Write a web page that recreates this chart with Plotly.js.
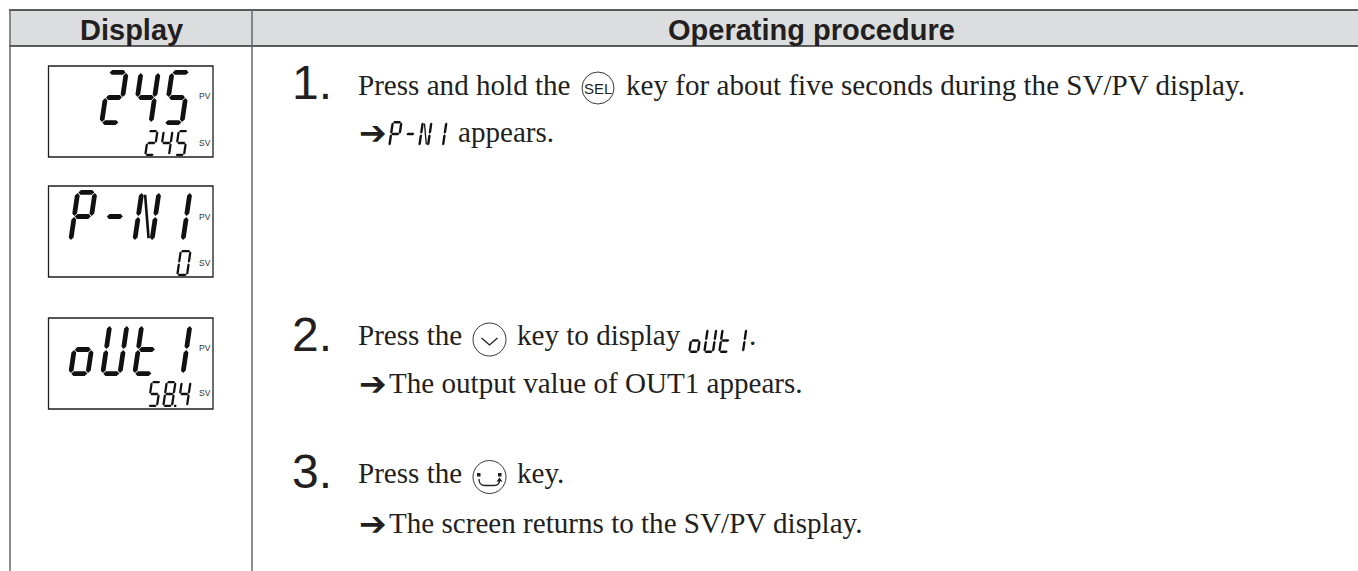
<!DOCTYPE html>
<html>
<head>
<meta charset="utf-8">
<script src="https://cdn.plot.ly/plotly-3.0.1.min.js"></script>
<style>html,body{margin:0;padding:0;background:#fff}#c{width:1358px;height:571px}</style>
</head>
<body>
<div id="c"></div>
<script>
const headers = ["Display", "Operating procedure"];
const stepNumbers = ["1.", "2.", "3."];
const stepText = [
  ["Press and hold the", "key for about five seconds during the SV/PV display."],
  ["Press the", "key to display"],
  ["Press the", "key."]
];
const resultText = ["appears.", "The output value of OUT1 appears.", "The screen returns to the SV/PV display."];
const displayBig = ["245", "P-N1", "oUt1"];
const displaySmall = ["245", "0", "58.4"];
const indicatorLabels = ["PV", "SV"];

const INK = "#231f20";
const W = 1358, H = 571;

// seven segment glyphs
const glyphs = {"0":"abcdef","2":"abged","4":"fgbc","5":"afgcd","8":"abcdefg","-":"g",
  "P":"abfge","N":"efbcn","1":"bc","o":"cdeg","U":"bcdef","t":"fegd"};

function segPoly(seg, box) {
  const {x, y, w, h, t, s} = box;
  const g = t * 0.12, th = t / 2;
  const mapP = (u, v) => [x + u + (h - v) * s, y + v];
  const hBar = (v, l, r) => [[l,v],[l+th,v-th],[r-th,v-th],[r,v],[r-th,v+th],[l+th,v+th]];
  const vBar = (u, a, b) => [[u,a],[u+th,a+th],[u+th,b-th],[u,b],[u-th,b-th],[u-th,a+th]];
  const m = h / 2, L = th, R = w - th, T = th, B = h - th;
  const defs = {
    a: hBar(T, L + g, R - g), g: hBar(m, L + g, R - g), d: hBar(B, L + g, R - g),
    f: vBar(L, T + g, m - g), e: vBar(L, m + g, B - g),
    b: vBar(R, T + g, m - g), c: vBar(R, m + g, B - g),
    n: [[L+th,T+th],[L+th+t*0.55,T+th],[R-th,B-th],[R-th-t*0.55,B-th]]
  };
  return defs[seg].map(p => mapP(p[0], p[1]));
}

const segX = [], segY = [];
function drawString(chars, xs, y, w, h, t, s) {
  let i = 0;
  for (const ch of chars) {
    if (ch === ".") {
      const px = xs[i - 1] + w + 1;
      segX.push(px, px + t, px + t, px, px, null);
      segY.push(y + h - t, y + h - t, y + h, y + h, y + h - t, null);
      continue;
    }
    for (const seg of glyphs[ch]) {
      const poly = segPoly(seg, {x: xs[i], y, w, h, t, s});
      poly.forEach(p => { segX.push(p[0]); segY.push(p[1]); });
      segX.push(poly[0][0], null); segY.push(poly[0][1], null);
    }
    i++;
  }
}

const S = 0.145;
drawString(displayBig[0], [99,131,162], 70, 22, 55, 4.8, S);
drawString(displayBig[1], [68,100,132,163], 190, 22, 53, 4.8, S);
drawString(displayBig[2], [68,100,132,163], 323, 22, 53, 4.8, S);
drawString(displaySmall[0], [144,159,174], 130, 11, 26, 2.3, S);
drawString(displaySmall[1], [176], 250, 12, 26, 2.3, S);
drawString(displaySmall[2], [147,162,177], 381, 11, 26, 2.3, S);
drawString(displayBig[1], [388,403,418,433], 121, 11, 26, 2.4, S);
drawString(displayBig[2], [688,703,718,733], 328, 11, 25, 2.4, S);

const shapes = [];
const line = (x0,y0,x1,y1,color,width) => shapes.push({type:"line",xref:"x",yref:"y",x0,y0,x1,y1,line:{color,width}});
shapes.push({type:"rect",xref:"x",yref:"y",x0:10,y0:10,x1:W,y1:46,fillcolor:"#dcddde",line:{width:0},layer:"below"});
line(9,10,W,10,"#2a2a2a",1.6);
line(9,46,W,46,"#2a2a2a",1.4);
line(10,10,10,H,"#666666",1.5);
line(252,10,252,H,"#666666",1.5);
[[66,157],[186,277],[318,409]].forEach(r => shapes.push({type:"rect",xref:"x",yref:"y",x0:48.5,x1:213,y0:r[0],y1:r[1],line:{color:"#1f1f1f",width:1.3}}));

const circle = (cx,cy,r) => shapes.push({type:"circle",xref:"x",yref:"y",x0:cx-r,x1:cx+r,y0:cy-r,y1:cy+r,line:{color:INK,width:0.9}});
circle(598,88,16); circle(489.5,339.5,16.5); circle(489.5,477,16.5);
const path = (d,fill) => shapes.push({type:"path",xref:"x",yref:"y",path:d,line:{color:INK,width:fill?0:1.3},fillcolor:fill?INK:"rgba(0,0,0,0)"});
path("M481.5 338 L489.5 345 L497.5 338");
path("M479 479 Q479 485.5 485 485.5 L494 485.5 Q499.5 485.5 499.5 480");
path("M496.5 481.5 L499.5 477.5 L502.5 481.5 Z", true);
path("M477 473 H480.5 V476.5 H477 Z", true);
path("M498 473 H501.5 V476.5 H498 Z", true);

const annotations = [];
const txt = (text,x,base,size,family) => annotations.push({
  text, x: x-1, y: base - size*0.3, xref:"x", yref:"y", xanchor:"left", yanchor:"middle", showarrow:false,
  font:{family,size,color:INK}, borderpad:0
});
const SERIF = "Liberation Serif", SANS = "Liberation Sans";
const TS = 29.1;

annotations.push({text:"<b>"+headers[0]+"</b>",x:131,y:29.5,xref:"x",yref:"y",xanchor:"center",yanchor:"middle",showarrow:false,font:{family:SANS,size:29,color:INK}});
annotations.push({text:"<b>"+headers[1]+"</b>",x:811,y:29.5,xref:"x",yref:"y",xanchor:"center",yanchor:"middle",showarrow:false,font:{family:SANS,size:29,color:INK}});

const numBase = [97,349,486];
stepNumbers.forEach((n,i)=>txt(n,292,numBase[i],48,SANS));
txt(stepText[0][0],358,94,TS,SERIF);
txt(stepText[0][1],626,94,TS,SERIF);
txt(stepText[1][0],358,344,TS,SERIF);
txt(stepText[1][1],517,344,TS,SERIF);
txt(".",749,344,TS,SERIF);
txt(stepText[2][0],358,482,TS,SERIF);
txt(stepText[2][1],517,482,TS,SERIF);
txt("➔",359,142,33,"DejaVu Sans");
txt("➔",359,393,33,"DejaVu Sans");
txt("➔",359,533,33,"DejaVu Sans");
txt(resultText[0],458,141,TS,SERIF);
txt(resultText[1],389,392,TS,SERIF);
txt(resultText[2],389,532,TS,SERIF);
annotations.push({text:"SEL",x:598,y:88.5,xref:"x",yref:"y",xanchor:"center",yanchor:"middle",showarrow:false,font:{family:SANS,size:15,color:INK}});
[[96,143],[217,263],[348,393]].forEach(p=>{
  indicatorLabels.forEach((l,i)=>annotations.push({text:l,x:205,y:p[i],xref:"x",yref:"y",xanchor:"center",yanchor:"middle",showarrow:false,font:{family:SANS,size:8.5,color:"#333333"}}));
});

const data = [{type:"scatter",mode:"lines",x:segX,y:segY,fill:"toself",fillcolor:"#111111",line:{width:0,color:"#111111"},hoverinfo:"skip",showlegend:false}];
const layout = {
  width:W,height:H,margin:{l:0,r:0,t:0,b:0},paper_bgcolor:"#fff",plot_bgcolor:"#fff",showlegend:false,
  xaxis:{range:[0,W],visible:false,fixedrange:true},
  yaxis:{range:[H,0],visible:false,fixedrange:true},
  shapes,annotations
};
Plotly.newPlot("c",data,layout,{displayModeBar:false,staticPlot:true});
</script>
</body>
</html>
